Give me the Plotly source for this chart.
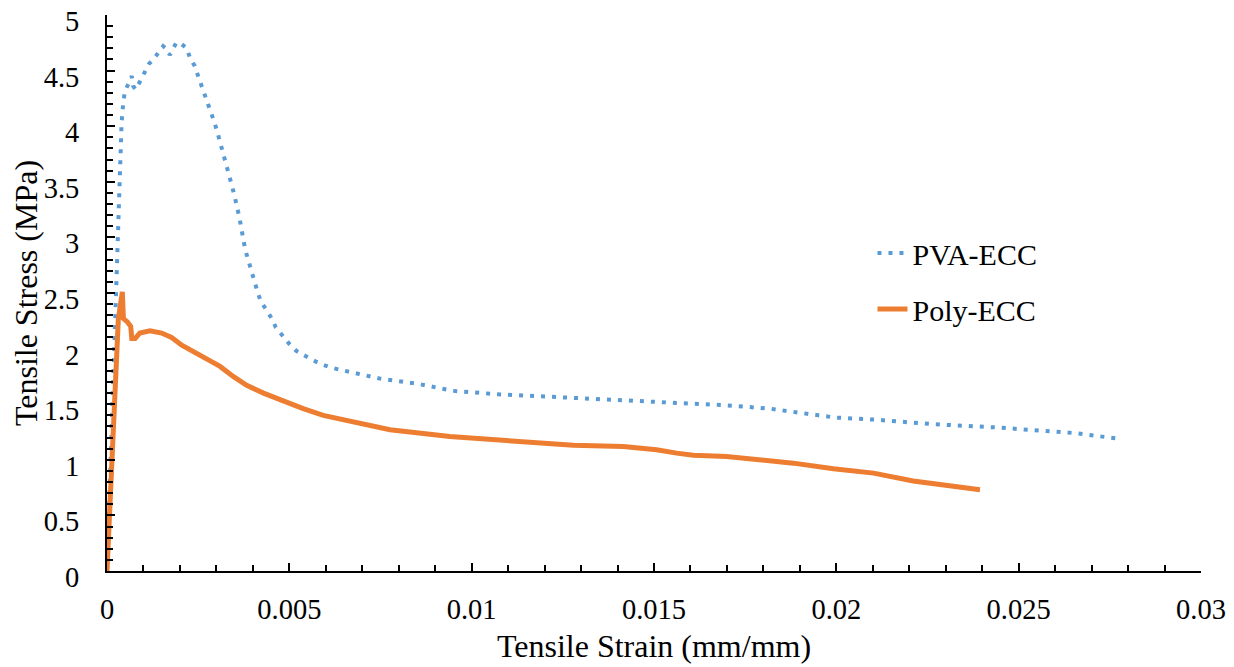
import plotly.graph_objects as go

pva_strain = [0, 0.00008, 0.00015, 0.0002, 0.00022, 0.00024, 0.00027, 0.00029, 0.00032, 0.00035,
              0.00038, 0.0004, 0.00045, 0.0005, 0.0006, 0.00068, 0.00072, 0.00079, 0.0009, 0.00104,
              0.00115, 0.00127, 0.00135, 0.00146, 0.00154, 0.00165, 0.00172, 0.0018, 0.0019, 0.002,
              0.00219, 0.00228, 0.00241, 0.0025, 0.0026, 0.0027, 0.00278, 0.00287, 0.00295, 0.00304,
              0.00312, 0.0032, 0.00328, 0.00335, 0.00343, 0.0035, 0.00357, 0.00363, 0.00368, 0.00373,
              0.00379, 0.00387, 0.00395, 0.00403, 0.00412, 0.00421, 0.00436, 0.00452, 0.00463, 0.0048,
              0.00498, 0.00519, 0.0054, 0.00562, 0.00588, 0.00613, 0.00639, 0.00749, 0.00858, 0.00949,
              0.01069, 0.01187, 0.01306, 0.01425, 0.01548, 0.01699, 0.01818, 0.0191, 0.01996, 0.02111,
              0.02266, 0.02444, 0.02536, 0.02654, 0.02773]
pva_stress = [0, 0.8, 1.6, 2.2, 2.46, 2.65, 2.85, 3.15, 3.34, 3.64,
              3.83, 4.03, 4.23, 4.32, 4.39, 4.45, 4.36, 4.33, 4.40, 4.50,
              4.56, 4.60, 4.64, 4.69, 4.72, 4.69, 4.64, 4.69, 4.75, 4.75,
              4.70, 4.61, 4.54, 4.45, 4.36, 4.27, 4.19, 4.12, 4.03, 3.93,
              3.84, 3.75, 3.65, 3.56, 3.46, 3.37, 3.28, 3.18, 3.09, 2.99,
              2.89, 2.80, 2.70, 2.61, 2.52, 2.43, 2.35, 2.27, 2.19, 2.12,
              2.05, 1.98, 1.94, 1.90, 1.86, 1.83, 1.81, 1.73, 1.68, 1.62,
              1.59, 1.57, 1.55, 1.53, 1.51, 1.49, 1.46, 1.42, 1.38, 1.36,
              1.32, 1.29, 1.27, 1.24, 1.19]

poly_strain = [0, 0.00011, 0.00022, 0.00031, 0.00042, 0.00045, 0.00056, 0.00065, 0.00068, 0.00077,
               0.0009, 0.00118, 0.0015, 0.00177, 0.00205, 0.00237, 0.00269, 0.0031, 0.00346, 0.00383,
               0.00429, 0.00483, 0.00538, 0.00593, 0.00662, 0.00776, 0.0094, 0.01096, 0.01279, 0.01416,
               0.01507, 0.01562, 0.01608, 0.01699, 0.01882, 0.01992, 0.02102, 0.02211, 0.02321, 0.02394]
poly_stress = [0, 0.85, 1.72, 2.26, 2.51, 2.27, 2.24, 2.20, 2.09, 2.09,
               2.14, 2.16, 2.14, 2.10, 2.03, 1.97, 1.92, 1.84, 1.75, 1.67,
               1.60, 1.53, 1.46, 1.40, 1.35, 1.27, 1.21, 1.17, 1.13, 1.12,
               1.09, 1.06, 1.04, 1.03, 0.97, 0.92, 0.88, 0.81, 0.76, 0.73]

series_names = ["PVA-ECC", "Poly-ECC"]
x_title = "Tensile Strain (mm/mm)"
y_title = "Tensile Stress (MPa)"

FONT = "Liberation Serif"

fig = go.Figure()
fig.add_trace(go.Scatter(x=pva_strain, y=pva_stress, mode="lines", name=series_names[0],
                         line=dict(color="#5B9BD5", width=4, dash="4px,7px"),
                         legendgroup="a"))
fig.add_trace(go.Scatter(x=poly_strain, y=poly_stress, mode="lines", name=series_names[1],
                         line=dict(color="#ED7D31", width=5),
                         legendgroup="b"))

fig.update_layout(
    width=1234, height=667,
    margin=dict(l=99, r=41, t=7, b=104, autoexpand=False),
    paper_bgcolor="white", plot_bgcolor="white",
    font=dict(family=FONT, size=28.5, color="black"),
    showlegend=True,
    legend=dict(x=0.6997, y=0.5214, xanchor="left", yanchor="middle",
                font=dict(family=FONT, size=30, color="black"),
                bgcolor="rgba(0,0,0,0)", tracegroupgap=14),
    xaxis=dict(range=[0, 0.03], dtick=0.005, tick0=0, automargin=False,
               showline=True, linecolor="black", linewidth=2,
               ticks="inside", ticklen=8, tickwidth=2, tickcolor="black",
               minor=dict(dtick=0.001, ticks="inside", ticklen=6, tickwidth=1.5, tickcolor="black"),
               showgrid=False, zeroline=False, ticklabelstandoff=12,
               ticklabeloverflow="allow",
               tickfont=dict(family=FONT, size=28.5, color="black"),
               title=dict(text=x_title, standoff=10, font=dict(family=FONT, size=32, color="black"))),
    yaxis=dict(range=[0, 5], dtick=0.5, tick0=0, automargin=False,
               showline=True, linecolor="black", linewidth=2,
               ticks="inside", ticklen=8, tickwidth=2, tickcolor="black",
               minor=dict(dtick=0.1, ticks="inside", ticklen=6, tickwidth=1.5, tickcolor="black"),
               showgrid=False, zeroline=False, ticklabelstandoff=20,
               ticklabelshift=6, ticklabeloverflow="allow",
               tickfont=dict(family=FONT, size=28.5, color="black"),
               title=dict(text=y_title, standoff=14, font=dict(family=FONT, size=32, color="black"))),
)

fig.write_html("out.html")
